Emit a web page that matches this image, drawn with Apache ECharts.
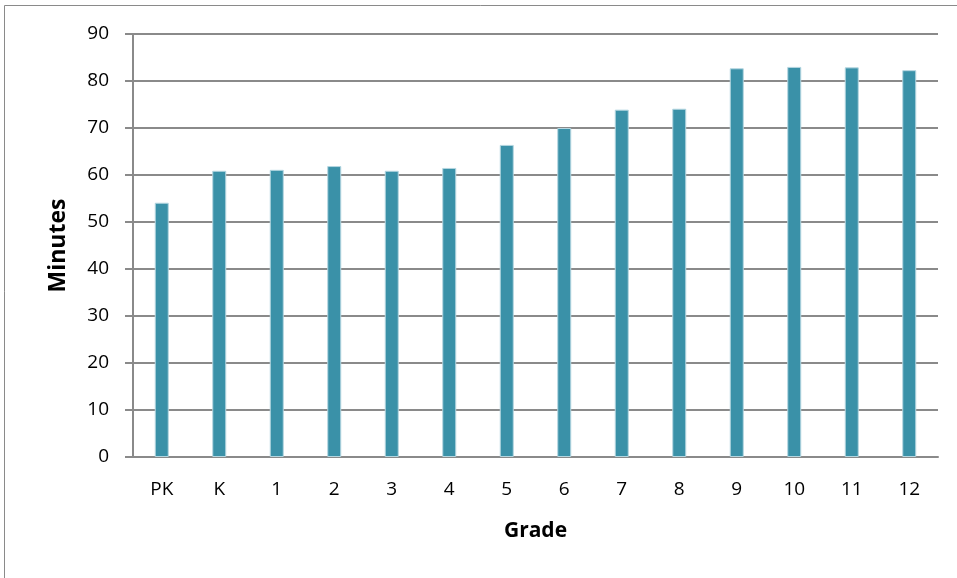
<!DOCTYPE html>
<html>
<head>
<meta charset="utf-8">
<script src="https://cdn.jsdelivr.net/npm/echarts@6/dist/echarts.min.js"></script>
<style>
  html, body { margin: 0; padding: 0; background: #fff; }
  #chart { width: 957px; height: 578px; }
</style>
</head>
<body>
<div id="chart"></div>
<script>
// Average daily minutes by grade
const grades = ['PK', 'K', '1', '2', '3', '4', '5', '6', '7', '8', '9', '10', '11', '12'];
const minutes = [54.1, 60.9, 61.1, 61.9, 60.9, 61.5, 66.4, 70.0, 73.9, 74.1, 82.7, 83.0, 82.9, 82.3];
const yTicks = [0, 10, 20, 30, 40, 50, 60, 70, 80, 90];

const font = '"Open Sans", "Liberation Sans", sans-serif';
const chart = echarts.init(document.getElementById('chart'), null, { renderer: 'canvas' });

chart.setOption({
  animation: false,
  backgroundColor: '#ffffff',
  graphic: [
    { type: 'line', shape: { x1: 4.5, y1: 5.5, x2: 957, y2: 5.5 }, style: { stroke: '#8a8a8a', lineWidth: 1 } },
    { type: 'line', shape: { x1: 4.5, y1: 5.5, x2: 4.5, y2: 578 }, style: { stroke: '#8a8a8a', lineWidth: 1 } }
  ],
  grid: { left: 133, right: 19, top: 34, bottom: 121, containLabel: false },
  xAxis: {
    type: 'category',
    data: grades,
    name: 'Grade',
    nameLocation: 'middle',
    nameGap: 64,
    nameTextStyle: { fontFamily: font, fontWeight: 'bold', fontSize: 21, color: '#000' },
    axisLine: { lineStyle: { color: '#8a8a8a', width: 2 } },
    axisTick: { show: false },
    axisLabel: { fontFamily: font, fontSize: 19, color: '#000', margin: 23 }
  },
  yAxis: {
    type: 'value',
    min: yTicks[0],
    max: yTicks[yTicks.length - 1],
    interval: 10,
    name: 'Minutes',
    nameLocation: 'middle',
    nameGap: 63,
    nameRotate: 90,
    nameTextStyle: { fontFamily: font, fontWeight: 'bold', fontSize: 23, color: '#000' },
    axisLine: { show: true, lineStyle: { color: '#8a8a8a', width: 2 } },
    axisTick: { show: true, length: 8, lineStyle: { color: '#8a8a8a', width: 2 } },
    axisLabel: { fontFamily: font, fontSize: 19, color: '#000', margin: 24 },
    splitLine: { show: true, lineStyle: { color: '#8a8a8a', width: 2 } }
  },
  series: [{
    type: 'bar',
    data: minutes,
    barWidth: 14,
    itemStyle: { color: '#3a91a8', borderColor: '#b4d6e0', borderWidth: 1 }
  }]
});
</script>
</body>
</html>
